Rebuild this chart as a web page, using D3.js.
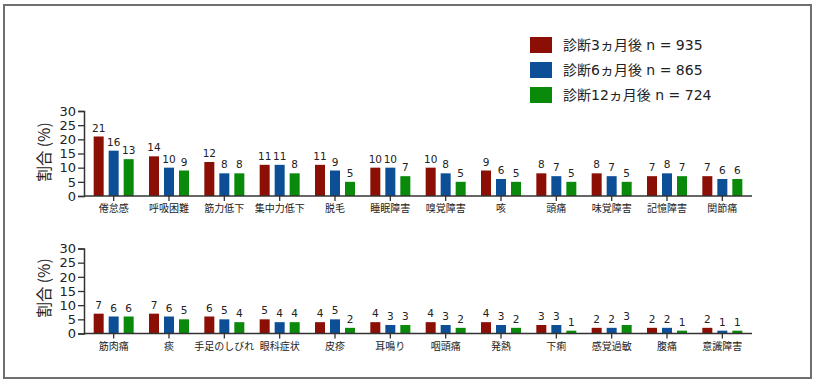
<!DOCTYPE html>
<html><head><meta charset="utf-8">
<script src="https://cdn.jsdelivr.net/npm/d3@7"></script>
<style>
html,body{margin:0;padding:0;background:#fff;}
svg{display:block;font-family:"DejaVu Sans","Noto Sans CJK JP",sans-serif;}
</style></head>
<body>
<svg id="chart" width="815" height="384"></svg>
<script>
const seriesNames = ["診断3ヵ月後 n = 935", "診断6ヵ月後 n = 865", "診断12ヵ月後 n = 724"];
const seriesColors = ["#8b0f05", "#0c4f96", "#0a8a0a"];

const topCategories = ["倦怠感","呼吸困難","筋力低下","集中力低下","脱毛","睡眠障害","嗅覚障害","咳","頭痛","味覚障害","記憶障害","関節痛"];
const top3m  = [21,14,12,11,11,10,10,9,8,8,7,7];
const top6m  = [16,10,8,11,9,10,8,6,7,7,8,6];
const top12m = [13,9,8,8,5,7,5,5,5,5,7,6];

const bottomCategories = ["筋肉痛","痰","手足のしびれ","眼科症状","皮疹","耳鳴り","咽頭痛","発熱","下痢","感覚過敏","腹痛","意識障害"];
const bot3m  = [7,7,6,5,4,4,4,4,3,2,2,2];
const bot6m  = [6,6,5,4,5,3,3,3,3,2,2,1];
const bot12m = [6,5,4,4,2,3,2,2,1,3,1,1];

const yTicks = [0,5,10,15,20,25,30];
const yLabel = "割合 (%)";

const svg = d3.select("#chart");

// frame
svg.append("rect").attr("x",4).attr("y",5).attr("width",807).attr("height",373)
  .attr("fill","none").attr("stroke","#6f6f6f").attr("stroke-width",2);

function panel(cats, series, y0, y30, labelY) {
  const g = svg.append("g");
  const x = d3.scaleBand().domain(cats).range([86, 750]).padding(0);
  const y = d3.scaleLinear().domain([0,30]).range([y0, y30]);
  const barW = 10, pitch = 15;

  series.forEach((vals, si) => {
    g.selectAll(null).data(cats).enter().append("rect")
      .attr("x", c => x(c) + x.bandwidth()/2 + (si-1)*pitch - barW/2)
      .attr("y", (c,i) => y(vals[i]))
      .attr("width", barW)
      .attr("height", (c,i) => y(0) - y(vals[i]))
      .attr("fill", seriesColors[si]);
    g.selectAll(null).data(cats).enter().append("text")
      .attr("x", c => x(c) + x.bandwidth()/2 + (si-1)*pitch)
      .attr("y", (c,i) => y(vals[i]) - 5)
      .attr("text-anchor","middle")
      .attr("font-size", 10.5)
      .attr("fill","#222")
      .text((c,i) => vals[i]);
  });

  const ya = g.append("g").attr("transform", `translate(84,0)`)
    .call(d3.axisLeft(y).tickValues(yTicks).tickSize(6).tickPadding(2));
  ya.select(".domain").attr("stroke","#333").attr("stroke-width",1.5);
  ya.selectAll(".tick line").attr("stroke","#333").attr("stroke-width",1.3);
  ya.selectAll(".tick text").attr("font-size",13).attr("fill","#222")
    .attr("font-family","DejaVu Sans, sans-serif");

  const xa = g.append("g").attr("transform", `translate(0,${y0})`)
    .call(d3.axisBottom(x).tickSize(5).tickSizeOuter(0).tickPadding(4));
  xa.select(".domain").remove();
  g.append("line").attr("x1",84).attr("x2",752).attr("y1",y0).attr("y2",y0)
    .attr("stroke","#333").attr("stroke-width",1.5);
  xa.selectAll(".tick line").attr("stroke","#333").attr("stroke-width",1.3);
  xa.selectAll(".tick text").attr("font-size",10).attr("fill","#222")
    .attr("font-family","Noto Sans CJK JP, sans-serif");

  g.append("text")
    .attr("transform", `translate(50,${labelY}) rotate(-90)`)
    .attr("text-anchor","middle")
    .attr("font-size",15.5)
    .attr("fill","#222")
    .attr("font-family","Noto Sans CJK JP, sans-serif")
    .text(yLabel);
}

panel(topCategories, [top3m, top6m, top12m], 196, 111, 152);
panel(bottomCategories, [bot3m, bot6m, bot12m], 333.5, 248.5, 288);

const lg = svg.append("g");
seriesNames.forEach((n, i) => {
  const cy = 45 + i*25;
  lg.append("rect").attr("x",530).attr("y",cy-8).attr("width",22).attr("height",16)
    .attr("fill",seriesColors[i]);
  lg.append("text").attr("x",563).attr("y",cy).attr("dy","0.35em")
    .attr("font-size",14).attr("fill","#222")
    .attr("font-family","DejaVu Sans, Noto Sans CJK JP, sans-serif")
    .text(n);
});
</script>
</body></html>
